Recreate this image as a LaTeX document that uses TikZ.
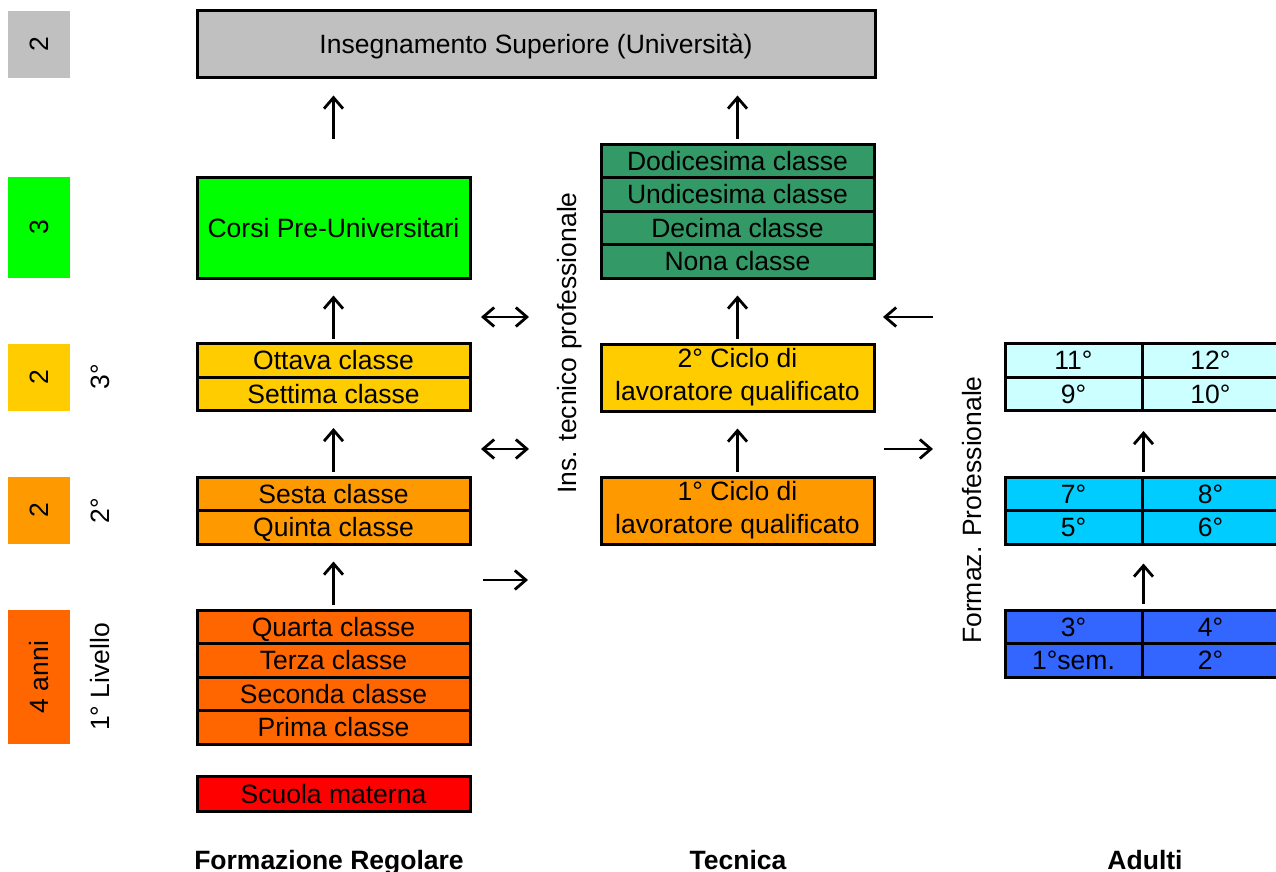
\documentclass[tikz,border=0pt]{standalone}
\usepackage{fontspec}
\setmainfont{Liberation Sans}
\usetikzlibrary{arrows.meta}

\definecolor{cGray}{HTML}{C0C0C0}
\definecolor{cGreen}{HTML}{00FF00}
\definecolor{cYellow}{HTML}{FFCC00}
\definecolor{cOrange}{HTML}{FF9900}
\definecolor{cDeepOrange}{HTML}{FF6600}
\definecolor{cRed}{HTML}{FF0000}
\definecolor{cTeal}{HTML}{339966}
\definecolor{cPaleCyan}{HTML}{CCFFFF}
\definecolor{cCyan}{HTML}{00CCFF}
\definecolor{cBlue}{HTML}{3366FF}

\begin{document}
\begin{tikzpicture}[x=1pt,y=-1pt,
  every node/.style={font=\fontsize{26.5}{33}\selectfont},
  cell/.style={draw=black, line width=3pt, inner sep=0pt,
    minimum width=273pt, minimum height=33.5pt,
    text height=19pt, text depth=0pt},
  halfcell/.style={cell, minimum width=137pt},
  bigcell/.style={draw=black, line width=3pt, inner sep=0pt,
    minimum width=273pt, minimum height=67pt, align=center},
  sidebar/.style={inner sep=0pt, minimum width=62pt, rotate=90},
  vlabel/.style={inner sep=0pt, rotate=90},
  colhead/.style={font=\fontsize{26.5}{33}\selectfont\bfseries, anchor=base, inner sep=0pt},
  tip/.style={Straight Barb[length=11pt,width=19pt,line width=2.8pt]},
  arr/.style={line width=2.5pt, -{Straight Barb[length=11pt,width=19pt,line width=2.8pt]}},
  darr/.style={line width=2.5pt, {Straight Barb[length=11pt,width=19pt,line width=2.8pt]}-{Straight Barb[length=11pt,width=19pt,line width=2.8pt]}},
  up/.style={arr, shorten <=3.5pt, shorten >=16pt}
]
\useasboundingbox (0,0) rectangle (1276,872);

% level bars on the left (rotated: width along y)
\node[sidebar, fill=cGray,       minimum height=62pt, minimum width=67pt]  (sb1) at (39,44.5)  {2};
\node[sidebar, fill=cGreen,      minimum height=62pt, minimum width=101pt] (sb2) at (39,227.5) {3};
\node[sidebar, fill=cYellow,     minimum height=62pt, minimum width=67pt]  (sb3) at (39,377.5) {2};
\node[sidebar, fill=cOrange,     minimum height=62pt, minimum width=67pt]  (sb4) at (39,510.5) {2};
\node[sidebar, fill=cDeepOrange, minimum height=62pt, minimum width=134pt] (sb5) at (39,677)   {4 anni};

\node[vlabel] (lv3) at (100,377) {3°};
\node[vlabel] (lv2) at (100,511) {2°};
\node[vlabel] (lv1) at (100,677) {1° Livello};

% university
\node[cell, fill=cGray, minimum width=678pt, minimum height=67pt] (univ) at (536,44.5)
  {Insegnamento Superiore (Università)};

% regular education column
\node[cell, fill=cGreen, minimum height=101pt] (corsi) at (333.5,227.5) {Corsi Pre-Universitari};
\node[cell, fill=cYellow] (ottava)   at (333.5,360.25) {Ottava classe};
\node[cell, fill=cYellow] (settima)  at (333.5,393.75) {Settima classe};
\node[cell, fill=cOrange] (sesta)    at (333.5,493.75) {Sesta classe};
\node[cell, fill=cOrange] (quinta)   at (333.5,527.25) {Quinta classe};
\node[cell, fill=cDeepOrange] (quarta)  at (333.5,626.75) {Quarta classe};
\node[cell, fill=cDeepOrange] (terza)   at (333.5,660.25) {Terza classe};
\node[cell, fill=cDeepOrange] (seconda) at (333.5,693.75) {Seconda classe};
\node[cell, fill=cDeepOrange] (prima)   at (333.5,727.25) {Prima classe};
\node[cell, fill=cRed, minimum height=35pt] (materna) at (333.5,793.5) {Scuola materna};

% technical column
\node[cell, fill=cTeal] (dodic) at (737.5,160.75) {Dodicesima classe};
\node[cell, fill=cTeal] (undic) at (737.5,194.25) {Undicesima classe};
\node[cell, fill=cTeal] (decima) at (737.5,227.75) {Decima classe};
\node[cell, fill=cTeal] (nona) at (737.5,261.25) {Nona classe};
\node[bigcell, fill=cYellow] (ciclo2) at (737.5,377.5) {2° Ciclo di\\lavoratore qualificato};
\node[bigcell, fill=cOrange] (ciclo1) at (737.5,510.5) {1° Ciclo di\\lavoratore qualificato};
\node[vlabel] (itp) at (570,343) {Ins. tecnico professionale};

% adult column
\node[halfcell, fill=cPaleCyan] (a11) at (1073.5,360.25) {11°};
\node[halfcell, fill=cPaleCyan] (a12) at (1210.5,360.25) {12°};
\node[halfcell, fill=cPaleCyan] (a9)  at (1073.5,393.75) {9°};
\node[halfcell, fill=cPaleCyan] (a10) at (1210.5,393.75) {10°};
\node[halfcell, fill=cCyan] (a7) at (1073.5,493.75) {7°};
\node[halfcell, fill=cCyan] (a8) at (1210.5,493.75) {8°};
\node[halfcell, fill=cCyan] (a5) at (1073.5,527.25) {5°};
\node[halfcell, fill=cCyan] (a6) at (1210.5,527.25) {6°};
\node[halfcell, fill=cBlue] (a3) at (1073.5,626.75) {3°};
\node[halfcell, fill=cBlue] (a4) at (1210.5,626.75) {4°};
\node[halfcell, fill=cBlue] (a1) at (1073.5,660.25) {1°sem.};
\node[halfcell, fill=cBlue] (a2) at (1210.5,660.25) {2°};
\node[vlabel] (fp) at (972,510) {Formaz. Professionale};

% column headings
\node[colhead] (hreg) at (329,869)  {Formazione Regolare};
\node[colhead] (htec) at (738,869)  {Tecnica};
\node[colhead] (hadu) at (1145,869) {Adulti};

% vertical progressions
\draw[up] (quarta.north) -- (quinta.south);
\draw[up] (sesta.north) -- (settima.south);
\draw[up] (ottava.north) -- (corsi.south);
\draw[arr, shorten <=37pt, shorten >=16pt] (corsi.north) -- (corsi.north |- univ.south);
\draw[up] (ciclo1.north) -- (ciclo2.south);
\draw[up] (ciclo2.north) -- (nona.south);
\draw[up] (dodic.north) -- (dodic.north |- univ.south);
\draw[arr, shorten <=5pt, shorten >=18pt] (a3.north east) -- (a5.south east);
\draw[arr, shorten <=4pt, shorten >=19pt] (a7.north east) -- (a9.south east);

% crossings between columns
\coordinate (x1a) at (481,317); \coordinate (x1b) at (529,317);
\coordinate (x2a) at (481,449); \coordinate (x2b) at (529,449);
\coordinate (x3a) at (483,580); \coordinate (x3b) at (528,580);
\coordinate (x4a) at (933,317); \coordinate (x4b) at (883,317);
\coordinate (x5a) at (884,449); \coordinate (x5b) at (933,449);
\draw[darr] (x1a) -- (x1b);
\draw[darr] (x2a) -- (x2b);
\draw[arr] (x3a) -- (x3b);
\draw[arr] (x4a) -- (x4b);
\draw[arr] (x5a) -- (x5b);
\end{tikzpicture}
\end{document}
